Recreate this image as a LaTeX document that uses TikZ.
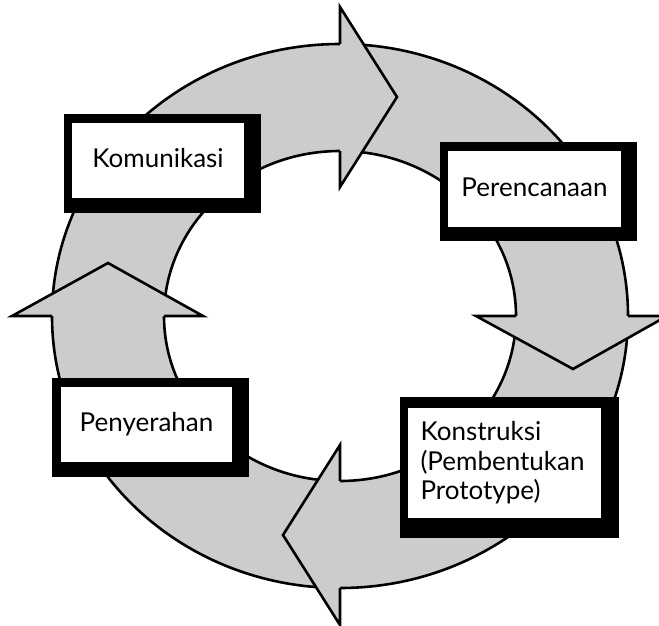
\documentclass[tikz,border=0pt]{standalone}
\usepackage{fontspec}
\setmainfont{Lato}
\definecolor{ringgray}{HTML}{CCCCCC}
\begin{document}
\begin{tikzpicture}[x=1pt,y=-1pt,
  ringline/.style={line width=2.6pt, line join=miter},
  ringfill/.style={fill=ringgray},
  frame/.style={fill=black},
  card/.style={fill=white, inner sep=0pt, font=\fontsize{26}{29.5}\selectfont},
  oneline/.style={card, align=center, text height=18.5pt, text depth=4pt},
]
\useasboundingbox (0,0) rectangle (659,626);
\clip (0,0) rectangle (659,626);
% ring
\fill[ringfill, even odd rule] (340,316) ellipse [x radius=288, y radius=272]
                               (340,316) ellipse [x radius=176, y radius=165];
\draw[ringline] (340,316) ellipse [x radius=288, y radius=272];
\draw[ringline] (340,316) ellipse [x radius=176, y radius=165];
% arrow heads
\fill[ringfill] (340,7) -- (397,97) -- (340,187) -- cycle;
\draw[ringline] (340,44) -- (340,7) -- (397,97) -- (340,187) -- (340,151);
\fill[ringfill] (476,316) -- (573,369) -- (667,316) -- cycle;
\draw[ringline] (516,316) -- (476,316) -- (573,369) -- (667,316) -- (628,316);
\fill[ringfill] (340,445) -- (283,535) -- (340,625) -- cycle;
\draw[ringline] (340,481) -- (340,445) -- (283,535) -- (340,625) -- (340,588);
\fill[ringfill] (12,316) -- (108,263) -- (203,316) -- cycle;
\draw[ringline] (52,316) -- (12,316) -- (108,263) -- (203,316) -- (164,316);
% boxes
\fill[frame] (64,114) rectangle (261,213);
\node[oneline, minimum width=172pt, minimum height=75pt] (kom) at (158,160.5) {Komunikasi};
\fill[frame] (440,142) rectangle (637,241);
\node[oneline, minimum width=173pt, minimum height=76pt] (per) at (534.5,189) {Perencanaan};
\fill[frame] (52,378) rectangle (249,477);
\node[oneline, minimum width=171pt, minimum height=75pt] (pen) at (146.5,424.5) {Penyerahan};
\fill[frame] (400,397) rectangle (619,538);
\node[card, align=left, text width=168pt, inner xsep=12.5pt, minimum height=110pt] (kon) at (504.5,463)
  {Konstruksi\\(Pembentukan\\Prototype)};
\end{tikzpicture}
\end{document}
